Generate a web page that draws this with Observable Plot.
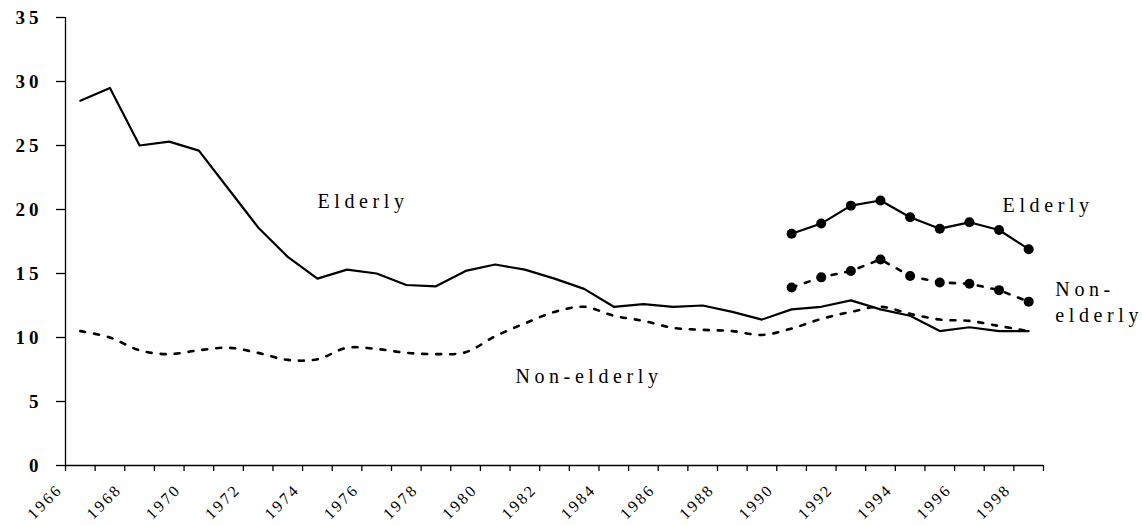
<!DOCTYPE html>
<html>
<head>
<meta charset="utf-8">
<script src="https://cdn.jsdelivr.net/npm/d3@7"></script>
<script src="https://cdn.jsdelivr.net/npm/@observablehq/plot@0.6"></script>
<style>
  html, body { margin: 0; padding: 0; background: #fff; }
  #chart svg { display: block; }
</style>
</head>
<body>
<div id="chart"></div>
<script>
// ---- Data ----
const years = [1966,1967,1968,1969,1970,1971,1972,1973,1974,1975,1976,1977,1978,1979,1980,1981,1982,1983,1984,1985,1986,1987,1988,1989,1990,1991,1992,1993,1994,1995,1996,1997,1998];
const elderly = [28.5,29.5,25.0,25.3,24.6,21.6,18.6,16.3,14.6,15.3,15.0,14.1,14.0,15.2,15.7,15.3,14.6,13.8,12.4,12.6,12.4,12.5,12.0,11.4,12.2,12.4,12.9,12.2,11.7,10.5,10.8,10.5,10.5];
const nonElderly = [10.5,10.0,9.0,8.7,9.0,9.2,8.8,8.25,8.3,9.2,9.1,8.8,8.7,8.85,10.1,11.1,12.0,12.4,11.7,11.3,10.75,10.6,10.5,10.2,10.7,11.45,12.0,12.4,11.85,11.4,11.3,10.9,10.5];

const altYears = [1990,1991,1992,1993,1994,1995,1996,1997,1998];
const elderlyAlt = [18.1,18.9,20.3,20.7,19.4,18.5,19.0,18.4,16.9];
const nonElderlyAlt = [13.9,14.7,15.2,16.1,14.8,14.3,14.2,13.7,12.8];

const yTicks = [0,5,10,15,20,25,30,35];
const xTickBoundaries = [1966,1967,1968,1969,1970,1971,1972,1973,1974,1975,1976,1977,1978,1979,1980,1981,1982,1983,1984,1985,1986,1987,1988,1989,1990,1991,1992,1993,1994,1995,1996,1997,1998,1999];
const xTickLabels = [1966,1968,1970,1972,1974,1976,1978,1980,1982,1984,1986,1988,1990,1992,1994,1996,1998];

const annotations = [
  {text: "Elderly", x: 1974.5, y: 20.15},
  {text: "Non-elderly", x: 1981.18, y: 6.41},
  {text: "Elderly", x: 1997.62, y: 19.84},
  {text: "Non-", x: 1999.4, y: 13.28},
  {text: "elderly", x: 1999.4, y: 11.2}
];

// ---- Tables built from the arrays ----
const main = years.map((year, i) => ({year, elderly: elderly[i], nonElderly: nonElderly[i]}));
const alt = altYears.map((year, i) => ({year, elderly: elderlyAlt[i], nonElderly: nonElderlyAlt[i]}));
const mid = d => d.year + 0.5; // category centre

const serif = "'Liberation Serif', 'Times New Roman', Times, serif";

const chart = Plot.plot({
  width: 1142,
  height: 525,
  marginLeft: 65,
  marginRight: 99,
  marginTop: 17,
  marginBottom: 60,
  x: {domain: [1966, 1999]},
  y: {domain: [0, 35]},
  style: {fontFamily: serif, color: "#000", background: "#fff", overflow: "visible"},
  marks: [
    Plot.axisY({ticks: yTicks, tickSize: 9, tickPadding: 14, fontSize: 19, fontWeight: "bold", label: null, strokeWidth: 1.3}),
    Plot.axisX({ticks: xTickBoundaries, tickSize: 6, tickFormat: () => "", label: null, strokeWidth: 1.3}),
    Plot.text(xTickLabels, {x: d => d, text: d => String(d), frameAnchor: "bottom", rotate: -45, textAnchor: "end", lineAnchor: "bottom", dx: -2, dy: 25, fontSize: 16}),
    Plot.ruleX([1966], {stroke: "#000", strokeWidth: 1.3}),
    Plot.ruleY([0], {stroke: "#000", strokeWidth: 1.3}),
    Plot.line(main, {x: mid, y: "elderly", stroke: "#000", strokeWidth: 2.2}),
    Plot.line(main, {x: mid, y: "nonElderly", stroke: "#000", strokeWidth: 2.6, strokeDasharray: "5,9", curve: "catmull-rom"}),
    Plot.line(alt, {x: mid, y: "elderly", stroke: "#000", strokeWidth: 2.2}),
    Plot.line(alt, {x: mid, y: "nonElderly", stroke: "#000", strokeWidth: 2.6, strokeDasharray: "5,9"}),
    Plot.dot(alt, {x: mid, y: "elderly", r: 5, fill: "#000"}),
    Plot.dot(alt, {x: mid, y: "nonElderly", r: 5, fill: "#000"}),
    Plot.text(annotations, {x: "x", y: "y", text: "text", textAnchor: "start", lineAnchor: "bottom", fontSize: 20})
  ]
});

document.getElementById("chart").appendChild(chart);

// letter-spacing is not a Plot option: apply it to the rendered texts
const yearSet = new Set(xTickLabels.map(String));
const annotSet = new Set(annotations.map(d => d.text));
const yTickSet = new Set(yTicks.map(String));
d3.select(chart).selectAll("text").each(function() {
  const t = this.textContent;
  const el = d3.select(this);
  if (yearSet.has(t)) el.style("letter-spacing", "2.5px");
  else if (annotSet.has(t)) el.style("letter-spacing", "4.6px");
  else if (yTickSet.has(t)) el.style("letter-spacing", "4px");
});
</script>
</body>
</html>
